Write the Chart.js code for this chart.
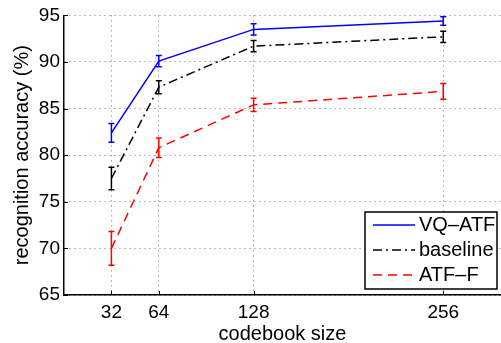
<!DOCTYPE html>
<html>
<head>
<meta charset="utf-8">
<script src="https://cdn.jsdelivr.net/npm/chart.js@4.4.1/dist/chart.umd.min.js"></script>
<style>
  html, body { margin: 0; padding: 0; background: #fff; }
  #wrap { width: 501px; height: 343px; }
</style>
</head>
<body>
<div id="wrap"><canvas id="chart" width="501" height="343"></canvas></div>
<script>
// codebook sizes on the x axis
var codebookSizes = [32, 64, 128, 256];
var yTicks = [65, 70, 75, 80, 85, 90, 95];

// recognition accuracy (%) and error bar half-widths
var vqAtf = [82.4, 90.1, 93.5, 94.4];
var vqAtfErr = [1.0, 0.6, 0.6, 0.45];
var baseline = [77.5, 87.3, 91.7, 92.7];
var baselineErr = [1.2, 0.7, 0.6, 0.6];
var atfF = [70.0, 80.8, 85.4, 86.85];
var atfFErr = [1.8, 1.05, 0.7, 0.85];

var FONT = '"Liberation Sans", Arial, Helvetica, sans-serif';

function toPoints(xs, ys) {
    return xs.map(function(x, i){ return {x: x, y: ys[i]}; });
}

// vertical error bars with small caps
var errorBars = {
    id: 'errorBars',
    afterDatasetsDraw: function(chart) {
        var ctx = chart.ctx;
        var xs = chart.scales.x, ys = chart.scales.y;
        chart.data.datasets.forEach(function(ds){
            ctx.save();
            ctx.strokeStyle = ds.borderColor;
            ctx.lineWidth = 1.5;
            ctx.setLineDash([]);
            ds.data.forEach(function(p, i){
                var px = xs.getPixelForValue(p.x);
                var top = ys.getPixelForValue(p.y + ds.err[i]);
                var bot = ys.getPixelForValue(p.y - ds.err[i]);
                ctx.beginPath();
                ctx.moveTo(px, top); ctx.lineTo(px, bot);
                ctx.moveTo(px - 3, top); ctx.lineTo(px + 3, top);
                ctx.moveTo(px - 3, bot); ctx.lineTo(px + 3, bot);
                ctx.stroke();
            });
            ctx.restore();
        });
    }
};

// inward tick marks like the original
var innerTicks = {
    id: 'innerTicks',
    afterDraw: function(chart) {
        var ctx = chart.ctx, a = chart.chartArea;
        var xs = chart.scales.x, ys = chart.scales.y;
        ctx.save();
        ctx.strokeStyle = '#000';
        ctx.lineWidth = 1;
        ctx.beginPath();
        codebookSizes.forEach(function(v){
            var px = Math.round(xs.getPixelForValue(v)) + 0.5;
            ctx.moveTo(px, a.bottom); ctx.lineTo(px, a.bottom - 4);
        });
        yTicks.forEach(function(v){
            var py = Math.round(ys.getPixelForValue(v)) + 0.5;
            ctx.moveTo(a.left, py); ctx.lineTo(a.left + 4, py);
        });
        ctx.stroke();
        ctx.restore();
    }
};

// boxed legend in the lower right
var boxLegend = {
    id: 'boxLegend',
    afterDraw: function(chart) {
        var ctx = chart.ctx;
        var x0 = 365, y0 = 212, w = 132, h = 77;
        ctx.save();
        ctx.fillStyle = '#fff';
        ctx.fillRect(x0, y0, w, h);
        ctx.strokeStyle = '#000';
        ctx.lineWidth = 1.5;
        ctx.strokeRect(x0, y0, w, h);
        ctx.font = '20px ' + FONT;
        ctx.textBaseline = 'middle';
        ctx.textAlign = 'left';
        chart.data.datasets.forEach(function(ds, i){
            var cy = y0 + 13 + i * 25;
            ctx.strokeStyle = ds.borderColor;
            ctx.lineWidth = 1.5;
            ctx.setLineDash(ds.borderDash || []);
            ctx.beginPath();
            ctx.moveTo(x0 + 8, cy); ctx.lineTo(x0 + 50, cy);
            ctx.stroke();
            ctx.setLineDash([]);
            ctx.fillStyle = '#000';
            ctx.fillText(ds.label, x0 + 54, cy);
        });
        ctx.restore();
    }
};

var ctx = document.getElementById('chart');
var myChart = new Chart(ctx, {
    type: 'line',
    data: {
        datasets: [{
            label: 'VQ\u2013ATF',
            data: toPoints(codebookSizes, vqAtf),
            err: vqAtfErr,
            borderColor: '#0000ff',
            borderWidth: 1.5,
            pointRadius: 0,
            fill: false
        }, {
            label: 'baseline',
            data: toPoints(codebookSizes, baseline),
            err: baselineErr,
            borderColor: '#000000',
            borderDash: [9, 4, 2, 4],
            borderWidth: 1.5,
            pointRadius: 0,
            fill: false
        }, {
            label: 'ATF\u2013F',
            data: toPoints(codebookSizes, atfF),
            err: atfFErr,
            borderColor: '#ff0000',
            borderDash: [9, 6],
            borderWidth: 1.5,
            pointRadius: 0,
            fill: false
        }]
    },
    options: {
        responsive: false,
        animation: false,
        devicePixelRatio: 1,
        layout: { padding: { top: 13, right: 0, left: 0, bottom: 0 } },
        plugins: {
            legend: { display: false },
            tooltip: { enabled: false }
        },
        scales: {
            x: {
                type: 'linear',
                min: 0,
                max: 295,
                afterBuildTicks: function(scale){
                    scale.ticks = codebookSizes.map(function(v){ return {value: v}; });
                },
                afterFit: function(scale){ scale.height = 48; },
                grid: { color: '#777', lineWidth: 1, drawTicks: false },
                border: { display: true, color: '#000', width: 1.5, dash: [1, 4] },
                ticks: {
                    color: '#000', padding: 6,
                    font: { family: FONT, size: 19 },
                    maxRotation: 0
                },
                title: {
                    display: true, text: 'codebook size', color: '#000',
                    font: { family: FONT, size: 20, lineHeight: 0.9 },
                    padding: 0
                }
            },
            y: {
                min: 65,
                max: 95,
                afterBuildTicks: function(scale){
                    scale.ticks = yTicks.map(function(v){ return {value: v}; });
                },
                afterFit: function(scale){ scale.width = 64; },
                grid: { color: '#777', lineWidth: 1, drawTicks: false },
                border: { display: true, color: '#000', width: 1.5, dash: [1, 4] },
                ticks: {
                    color: '#000', padding: 4,
                    font: { family: FONT, size: 19 }
                },
                title: {
                    display: true, text: 'recognition accuracy (%)', color: '#000',
                    font: { family: FONT, size: 20, lineHeight: 1.0 },
                    padding: { top: 12, bottom: 0 }
                }
            }
        }
    },
    plugins: [errorBars, innerTicks, boxLegend]
});
</script>
</body>
</html>
